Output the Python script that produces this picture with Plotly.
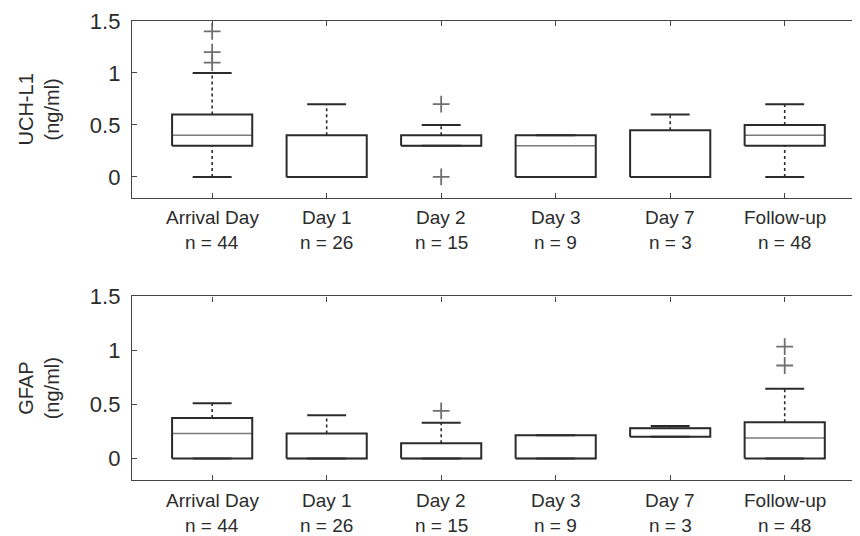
import plotly.graph_objects as go
from plotly.subplots import make_subplots

categories = ["Arrival Day", "Day 1", "Day 2", "Day 3", "Day 7", "Follow-up"]
n_counts = [44, 26, 15, 9, 3, 48]

# UCH-L1 (ng/ml)
uch_lower = [0.0, 0.0, 0.3, 0.0, 0.0, 0.0]
uch_q1 = [0.3, 0.0, 0.3, 0.0, 0.0, 0.3]
uch_median = [0.4, 0.0, 0.3, 0.3, 0.0, 0.4]
uch_q3 = [0.6, 0.4, 0.4, 0.4, 0.45, 0.5]
uch_upper = [1.0, 0.7, 0.5, 0.4, 0.6, 0.7]
uch_outliers = [[1.1, 1.2, 1.4], [], [0.0, 0.7], [], [], []]

# GFAP (ng/ml)
gfap_lower = [0.0, 0.0, 0.0, 0.0, 0.2, 0.0]
gfap_q1 = [0.0, 0.0, 0.0, 0.0, 0.2, 0.0]
gfap_median = [0.23, 0.0, 0.0, 0.0, 0.28, 0.19]
gfap_q3 = [0.375, 0.23, 0.14, 0.215, 0.28, 0.335]
gfap_upper = [0.51, 0.4, 0.33, 0.215, 0.3, 0.645]
gfap_outliers = [[], [], [0.44], [], [], [0.86, 1.035]]

BOX_HALF = 0.35
CAP_HALF = 0.17
BOX_COLOR = "#2b2b2b"
MED_COLOR = "#7a7a7a"
OUT_COLOR = "#6f6f6f"
TXT = "#2b2b2b"
FONT = "Liberation Sans, Arial, sans-serif"

fig = make_subplots(rows=2, cols=1, vertical_spacing=0.215)


def add_panel(row, lower, q1, med, q3, upper, outliers):
    bx, by, mx, my, cx, cy, wx, wy, ox, oy = [], [], [], [], [], [], [], [], [], []
    for i in range(len(categories)):
        x = i + 1
        bx += [x - BOX_HALF, x + BOX_HALF, x + BOX_HALF, x - BOX_HALF, x - BOX_HALF, None]
        by += [q1[i], q1[i], q3[i], q3[i], q1[i], None]
        mx += [x - BOX_HALF, x + BOX_HALF, None]
        my += [med[i], med[i], None]
        cx += [x - CAP_HALF, x + CAP_HALF, None, x - CAP_HALF, x + CAP_HALF, None]
        cy += [upper[i], upper[i], None, lower[i], lower[i], None]
        if upper[i] > q3[i]:
            wx += [x, x, None]
            wy += [q3[i], upper[i], None]
        if lower[i] < q1[i]:
            wx += [x, x, None]
            wy += [lower[i], q1[i], None]
        for v in outliers[i]:
            ox.append(x)
            oy.append(v)
    fig.add_trace(go.Scatter(x=wx, y=wy, mode="lines",
                             line=dict(color=BOX_COLOR, width=1.6, dash="dot"),
                             hoverinfo="skip", showlegend=False), row=row, col=1)
    fig.add_trace(go.Scatter(x=cx, y=cy, mode="lines",
                             line=dict(color=BOX_COLOR, width=2),
                             hoverinfo="skip", showlegend=False), row=row, col=1)
    fig.add_trace(go.Scatter(x=mx, y=my, mode="lines",
                             line=dict(color=MED_COLOR, width=1.5),
                             hoverinfo="skip", showlegend=False), row=row, col=1)
    fig.add_trace(go.Scatter(x=bx, y=by, mode="lines",
                             line=dict(color=BOX_COLOR, width=2),
                             hoverinfo="skip", showlegend=False), row=row, col=1)
    fig.add_trace(go.Scatter(x=ox, y=oy, mode="markers",
                             marker=dict(symbol="cross-thin", size=12,
                                         line=dict(color=OUT_COLOR, width=1.8)),
                             showlegend=False), row=row, col=1)


add_panel(1, uch_lower, uch_q1, uch_median, uch_q3, uch_upper, uch_outliers)
add_panel(2, gfap_lower, gfap_q1, gfap_median, gfap_q3, gfap_upper, gfap_outliers)

xpos = list(range(1, len(categories) + 1))
for r in (1, 2):
    fig.update_xaxes(range=[0.3, 6.64], tickvals=xpos, ticktext=[""] * len(xpos),
                     showticklabels=False, ticks="inside", ticklen=5,
                     tickcolor="#444", showline=True, linecolor="#444", linewidth=1.3,
                     mirror="ticks", showgrid=False, zeroline=False, row=r, col=1)
    fig.update_yaxes(range=[-0.2, 1.5], tickvals=[0, 0.5, 1, 1.5],
                     ticktext=["0", "0.5", "1", "1.5"], ticks="inside", ticklen=5,
                     tickcolor="#444", showline=True, linecolor="#444", linewidth=1.3,
                     mirror="ticks", showgrid=False, zeroline=False,
                     ticklabelstandoff=6,
                     tickfont=dict(family=FONT, size=22, color=TXT),
                     row=r, col=1)

fig.update_yaxes(title=dict(text="UCH-L1<br>(ng/ml)", standoff=24,
                            font=dict(family=FONT, size=20, color=TXT)), row=1, col=1)
fig.update_yaxes(title=dict(text="GFAP<br>(ng/ml)", standoff=24,
                            font=dict(family=FONT, size=20, color=TXT)), row=2, col=1)

fig.update_layout(yaxis=dict(domain=[0.615, 1.0]), yaxis2=dict(domain=[0.0, 0.4]))

for yref_bottom, xr in ((0.615, "x"), (0.0, "x2")):
    for i, cat in enumerate(categories):
        fig.add_annotation(x=xpos[i], xref=xr, y=yref_bottom, yref="paper",
                           text=cat, showarrow=False, yanchor="middle", yshift=-20,
                           font=dict(family=FONT, size=19, color=TXT))
        fig.add_annotation(x=xpos[i], xref=xr, y=yref_bottom, yref="paper",
                           text="n = " + str(n_counts[i]), showarrow=False,
                           yanchor="middle", yshift=-45,
                           font=dict(family=FONT, size=19, color=TXT))

fig.update_layout(width=852, height=528, margin=dict(l=124, r=1, t=7, b=56),
                  plot_bgcolor="white", paper_bgcolor="white",
                  font=dict(family=FONT, color=TXT))

fig.write_html("out.html")
